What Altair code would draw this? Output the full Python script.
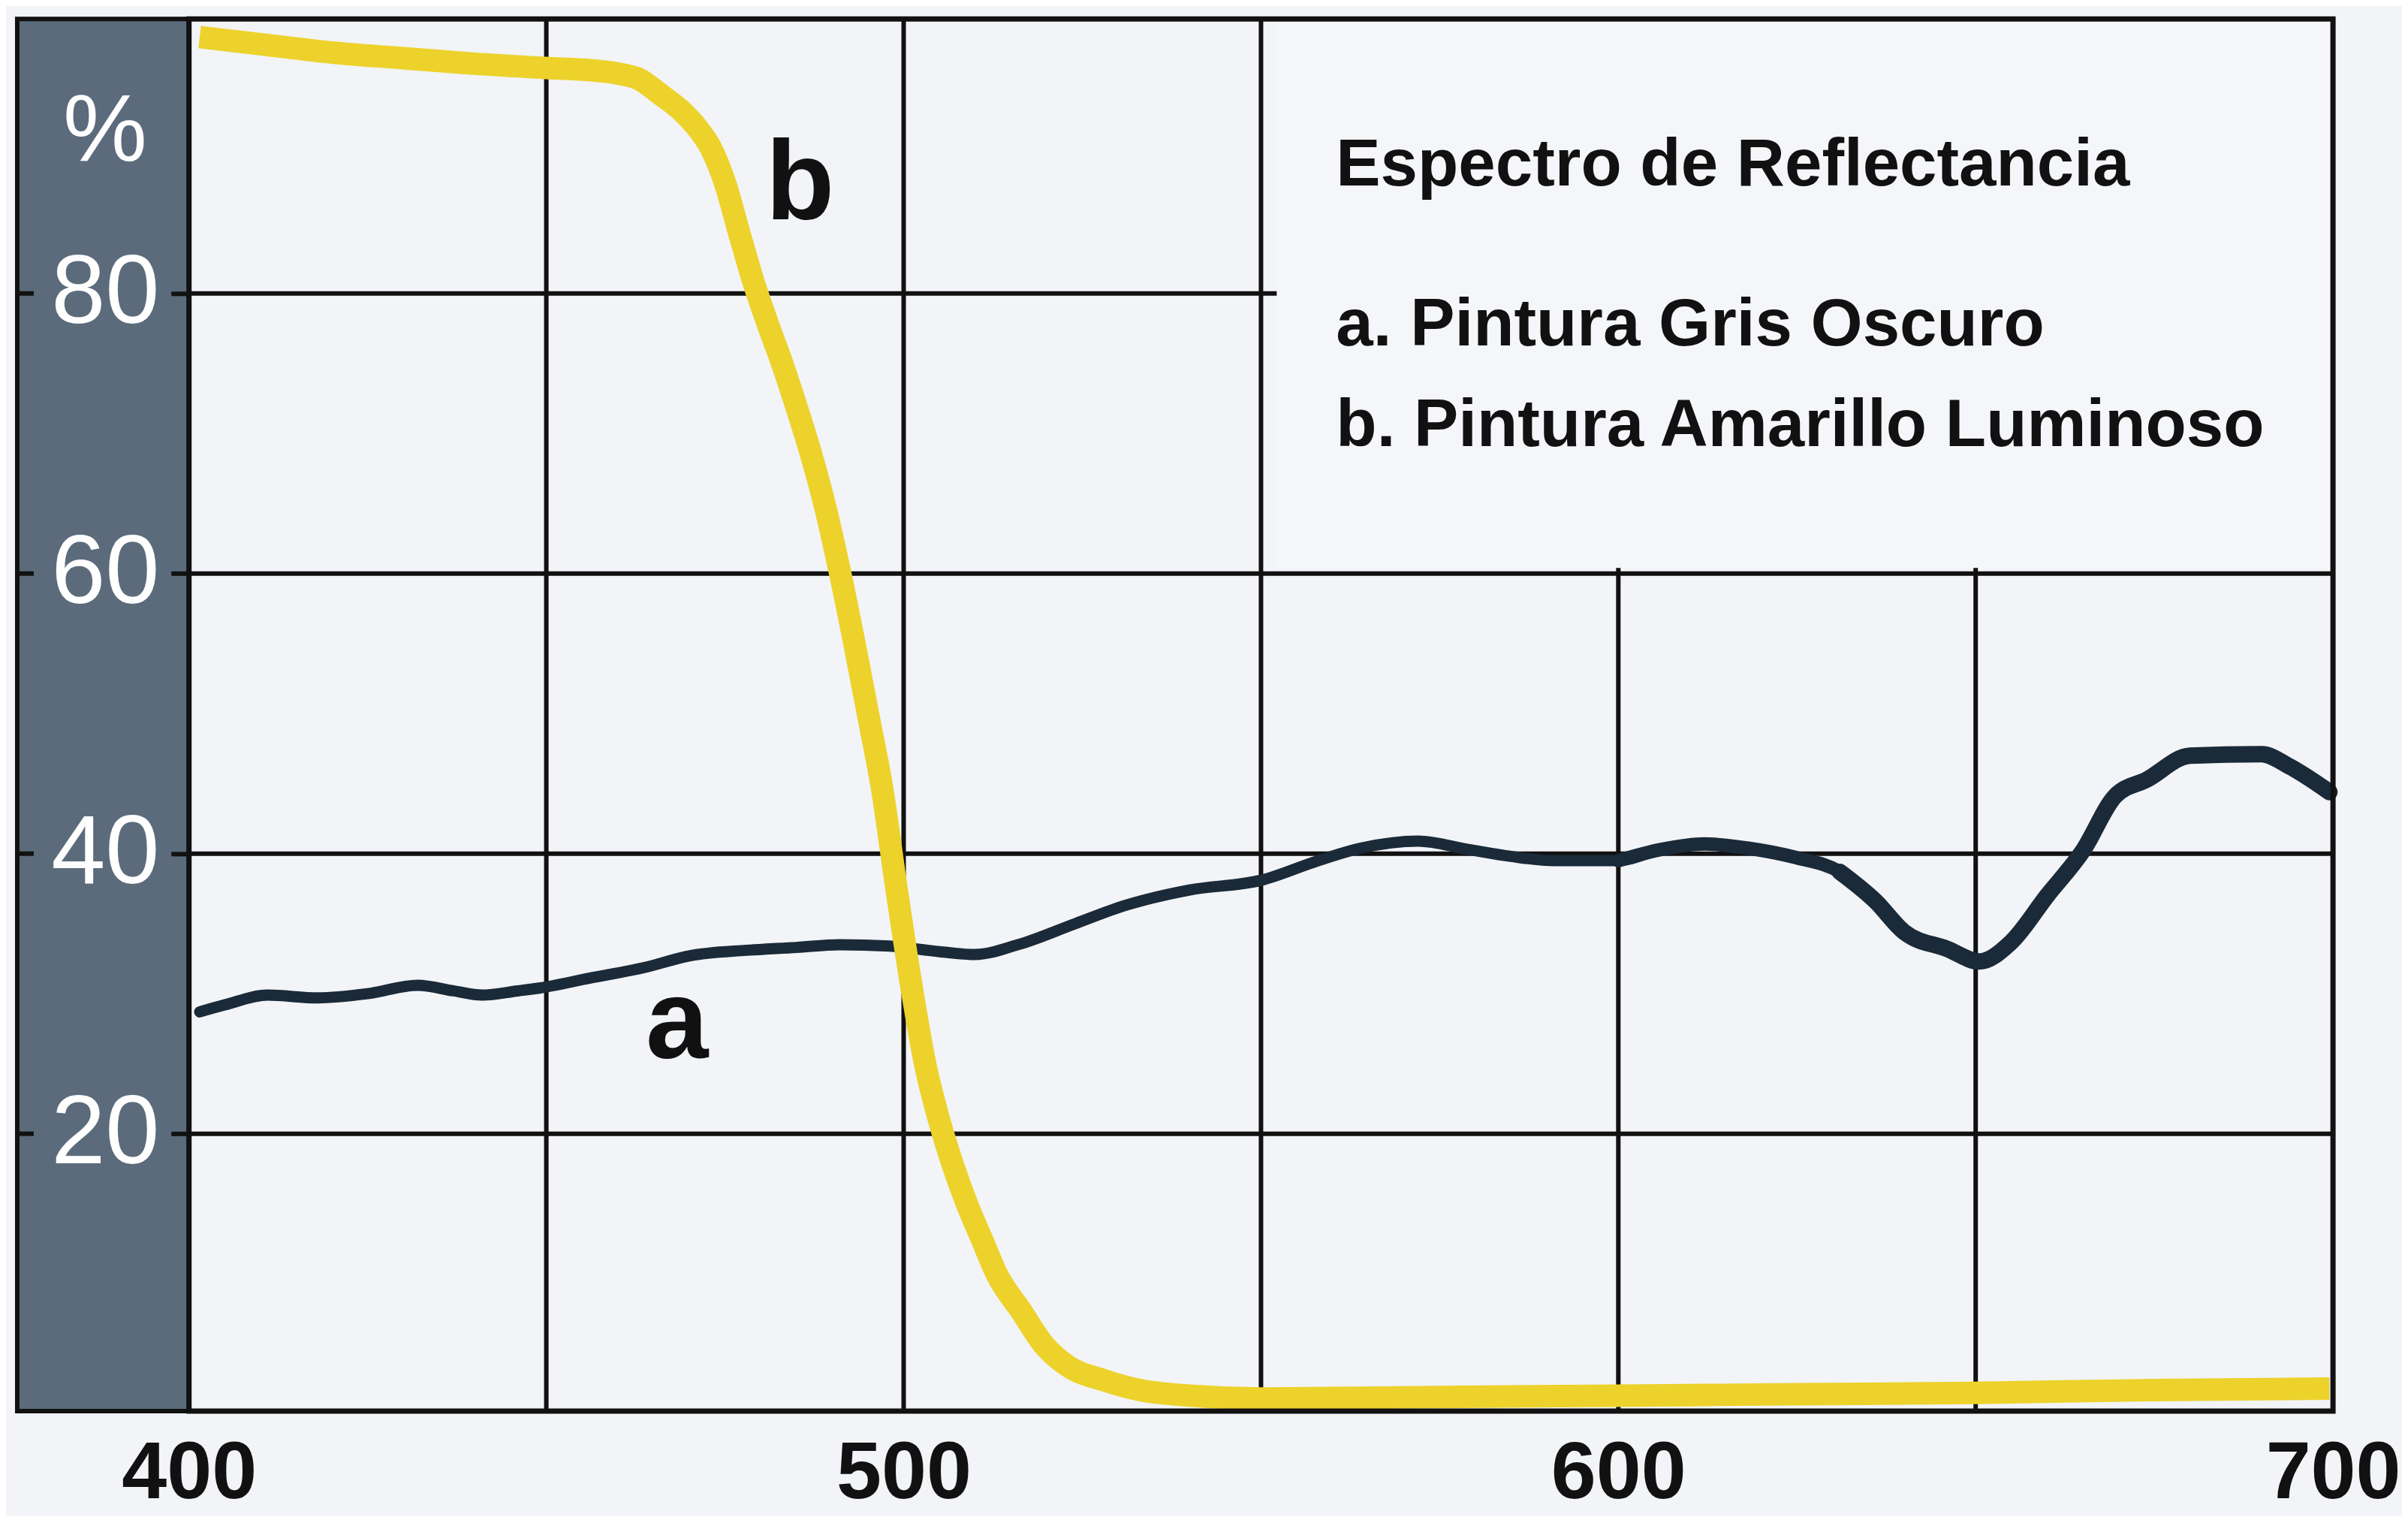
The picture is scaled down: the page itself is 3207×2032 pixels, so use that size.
import altair as alt
import pandas as pd

# ---- data ----
wl_a = [401.5, 405, 411, 418, 425, 432, 437, 441, 446, 449, 456, 464, 470, 478,
        485, 491, 498, 505, 510, 516, 524, 531, 540, 550, 558, 564, 572, 579,
        585, 591, 600, 606, 612, 618, 625, 631, 636, 640, 646, 650.5, 655, 660,
        665, 669.5, 674, 680, 690, 694, 699.5]
refl_a = [28.7, 29.2, 29.9, 29.7, 30.0, 30.6, 30.2, 29.9, 30.2, 30.4, 31.1, 31.9, 32.7, 33.1,
          33.3, 33.5, 33.4, 33.0, 32.8, 33.5, 35.0, 36.3, 37.4, 38.1, 39.5, 40.4, 40.9, 40.3,
          39.8, 39.5, 39.5, 40.3, 40.7, 40.4, 39.7, 38.7, 36.6, 34.4, 33.2, 32.3, 33.7, 37.0,
          40.2, 44.1, 45.3, 47.0, 47.1, 46.2, 44.4]

wl_b = [401.5, 410, 420, 430, 440, 450, 457, 460, 463, 466, 469, 471, 473, 475,
        477, 479, 481, 483, 485, 487, 489, 491, 493, 495, 497, 499, 501, 503,
        505, 507, 509, 511, 513, 516.5, 519.5, 523, 528, 533, 540, 550, 575,
        600, 625, 650, 675, 699.5]
refl_b = [98.3, 97.8, 97.2, 96.8, 96.4, 96.1, 95.9, 95.7, 95.3, 94.2, 93.0, 91.9, 90.4, 87.9,
          84.3, 80.8, 77.8, 75.0, 71.9, 68.6, 64.8, 60.3, 55.3, 50.0, 44.6, 37.5, 30.8, 25.0,
          20.9, 17.6, 14.8, 12.4, 10.0, 7.3, 5.0, 3.4, 2.4, 1.7, 1.3, 1.1, 1.2,
          1.3, 1.4, 1.5, 1.7, 1.8]

y_ticks = [20, 40, 60, 80]
x_labels = [400, 500, 600, 700]
x_grid = [450, 500, 550, 600, 650]
title_text = "Espectro de Reflectancia"
legend_lines = ["a. Pintura Gris Oscuro", "b. Pintura Amarillo Luminoso"]
curve_names = ["a", "b"]

# ---- layout / style ----
W, H = 2859, 1856
FONT = "Liberation Sans, Arial, Helvetica, sans-serif"
BG = "#f2f4f7"
INK = "#111111"
PANEL = "#5b6b7b"
NAVY = "#1b2a38"
YELLOW = "#ecd22b"

xs = alt.Scale(domain=[400, 700], nice=False, zero=False)
ys = alt.Scale(domain=[0.2, 99.6], nice=False, zero=False)

x_axis = alt.Axis(values=x_labels, title=None, grid=False, domain=False, ticks=False,
                  labelFont=FONT, labelFontSize=108, labelFontWeight="bold", labelColor=INK,
                  labelPadding=116, labelBaseline="alphabetic", labelFlush=False,
                  labelOverlap=False, labelLimit=2000, format="d")
y_axis = alt.Axis(values=y_ticks, title=None, grid=False, domain=False, ticks=True,
                  tickSize=24, tickWidth=6, tickColor=INK,
                  labelFont=FONT, labelFontSize=130, labelColor="white",
                  labelPadding=88, labelAlign="center", labelBaseline="middle",
                  labelFlush=False, labelOverlap=False, labelLimit=2000, zindex=1, format="d")


def X(field):
    return alt.X(field, scale=xs, axis=x_axis)


def Y(field):
    return alt.Y(field, scale=ys, axis=y_axis)


one = pd.DataFrame({"k": [0]})

panel = alt.Chart(one).mark_rect(fill=PANEL, stroke=INK, strokeWidth=6).encode(
    x=alt.value(-229), x2=alt.value(0), y=alt.value(0), y2=alt.value(H))

grid_x = alt.Chart(pd.DataFrame({"g": x_grid})).mark_rule(color=INK, strokeWidth=6).encode(
    x=X("g:Q"))
grid_y = alt.Chart(pd.DataFrame({"g": y_ticks})).mark_rule(color=INK, strokeWidth=6).encode(
    y=Y("g:Q"))

dash_left = alt.Chart(pd.DataFrame({"g": y_ticks})).mark_rule(color=INK, strokeWidth=6).encode(
    y=Y("g:Q"), x=alt.value(-229), x2=alt.value(-207))
stub_right = alt.Chart(pd.DataFrame({"g": [80]})).mark_rule(color=INK, strokeWidth=6).encode(
    y=Y("g:Q"), x=alt.value(W - 18), x2=alt.value(W))

box = pd.DataFrame({"x1": [552.2], "x2": [700], "y1": [60.4], "y2": [99.6]})
cover = alt.Chart(box).mark_rect(fill="#f5f6f9").encode(
    x=X("x1:Q"), x2="x2:Q", y=Y("y1:Q"), y2="y2:Q")

df_a = pd.DataFrame({"wl": wl_a, "r": refl_a})
df_b = pd.DataFrame({"wl": wl_b, "r": refl_b})

line_a = alt.Chart(df_a).mark_line(color=NAVY, strokeWidth=15, interpolate="monotone",
                                   strokeJoin="round", strokeCap="round").encode(
    x=X("wl:Q"), y=Y("r:Q"))
line_a2 = alt.Chart(df_a[df_a.wl >= 600]).mark_line(
    color=NAVY, strokeWidth=18, interpolate="monotone", strokeJoin="round",
    strokeCap="round").encode(x=X("wl:Q"), y=Y("r:Q"))
line_a3 = alt.Chart(df_a[df_a.wl >= 631]).mark_line(
    color=NAVY, strokeWidth=22, interpolate="monotone", strokeJoin="round",
    strokeCap="round").encode(x=X("wl:Q"), y=Y("r:Q"))
line_b = alt.Chart(df_b).mark_line(color=YELLOW, strokeWidth=30, interpolate="monotone",
                                   strokeJoin="round").encode(
    x=X("wl:Q"), y=Y("r:Q"))

lab_df = pd.DataFrame({"x": [468.3, 485.5], "y": [25.4, 85.3], "t": curve_names})
curve_labels = alt.Chart(lab_df).mark_text(font=FONT, fontSize=150, fontWeight="bold",
                                           color=INK, align="center", baseline="alphabetic").encode(
    x=X("x:Q"), y=Y("y:Q"), text="t:N")

leg_df = pd.DataFrame({"x": [560.5, 560.5, 560.5], "y": [87.7, 76.3, 69.1],
                       "t": [title_text] + legend_lines})
legend_text = alt.Chart(leg_df).mark_text(font=FONT, fontSize=89, fontWeight="bold",
                                          color=INK, align="left", baseline="alphabetic").encode(
    x=X("x:Q"), y=Y("y:Q"), text="t:N")

pct = alt.Chart(pd.DataFrame({"y": [91.5], "t": ["%"]})).mark_text(
    font=FONT, fontSize=126, color="white", align="center", baseline="middle").encode(
    x=alt.value(-112), y=Y("y:Q"), text="t:N")

border = alt.Chart(one).mark_rect(filled=False, stroke=INK, strokeWidth=7).encode(
    x=alt.value(0), x2=alt.value(W), y=alt.value(0), y2=alt.value(H))

chart = alt.layer(
    panel, grid_x, grid_y, dash_left, stub_right, cover,
    line_a, line_a2, line_a3, line_b, curve_labels, legend_text, pct, border
).properties(
    width=W, height=H, background=BG,
    padding={"left": 244, "top": 16, "right": 92, "bottom": 139},
    autosize=alt.AutoSizeParams(type="none"),
).configure_view(stroke=None, fill=BG)

chart.save("out.html", embed_options={"renderer": "svg", "actions": False})
